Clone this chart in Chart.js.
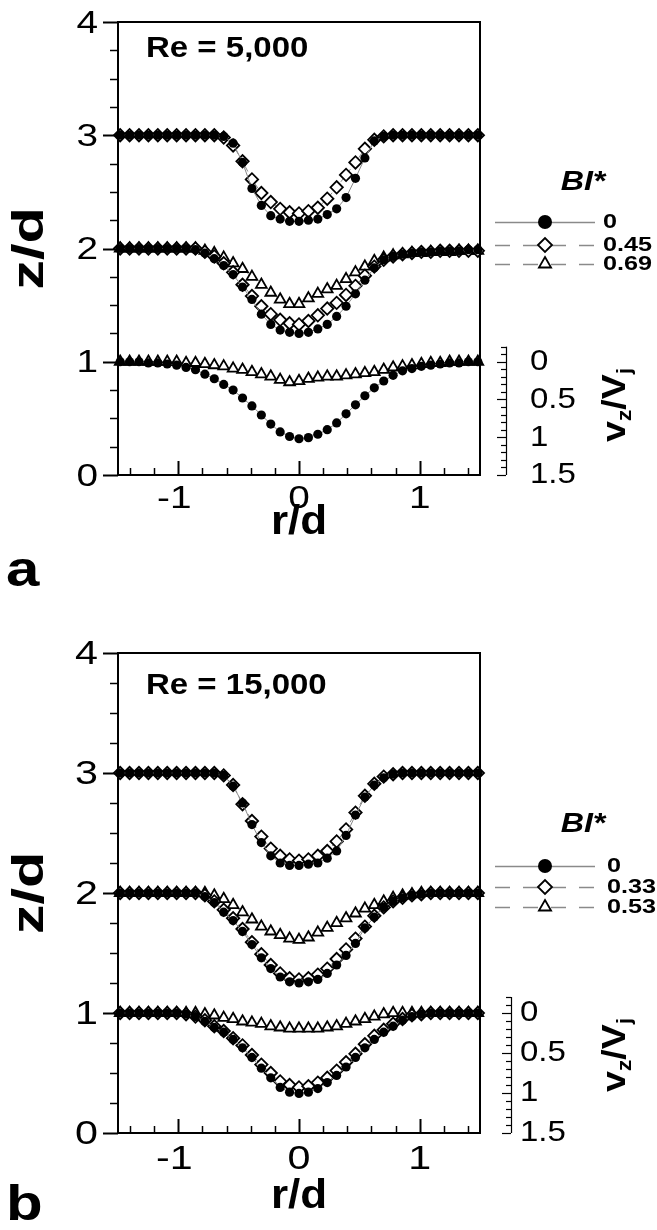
<!DOCTYPE html>
<html>
<head>
<meta charset="utf-8">
<title>Velocity profiles</title>
<script src="https://cdn.jsdelivr.net/npm/chart.js@4.4.1/dist/chart.umd.min.js"></script>
<style>
  html, body { margin: 0; padding: 0; background: #fff; }
  .panel { position: absolute; left: 0; width: 657px; height: 615px; }
  #panelA { top: 0; }
  #panelB { top: 615px; }
</style>
</head>
<body>
<div class="panel" id="panelA"><canvas id="chartA" width="657" height="615"></canvas></div>
<div class="panel" id="panelB"><canvas id="chartB" width="657" height="615"></canvas></div>
<script>
// radial stations r/d shared by every profile
const rGrid = [-1.482, -1.404, -1.326, -1.248, -1.170, -1.092, -1.014, -0.936, -0.858, -0.780,
  -0.702, -0.624, -0.546, -0.468, -0.390, -0.312, -0.234, -0.156, -0.078, 0,
  0.078, 0.156, 0.234, 0.312, 0.390, 0.468, 0.546, 0.624, 0.702, 0.780,
  0.858, 0.936, 1.014, 1.092, 1.170, 1.248, 1.326, 1.404, 1.482];

// Re = 5,000 profiles (plotted z/d position of each marker)
const zA3_0 = [3.00, 3.00, 3.00, 3.00, 3.00, 3.00, 3.00, 3.00, 3.00, 3.00, 3.00, 2.99, 2.93, 2.76, 2.53, 2.38, 2.29, 2.26, 2.24,
  2.24, 2.25, 2.26, 2.30, 2.35, 2.45, 2.62, 2.80, 2.95, 2.99, 3.00, 3.00, 3.00, 3.00, 3.00, 3.00, 3.00, 3.00, 3.00, 3.00];
const zA3_045 = [3.00, 3.00, 3.00, 3.00, 3.00, 3.00, 3.00, 3.00, 3.00, 3.00, 3.00, 2.98, 2.91, 2.77, 2.61, 2.49, 2.41, 2.35, 2.32,
  2.31, 2.33, 2.36, 2.44, 2.54, 2.65, 2.76, 2.88, 2.96, 2.99, 3.00, 3.00, 3.00, 3.00, 3.00, 3.00, 3.00, 3.00, 3.00, 3.00];
const zA2_0 = [2.00, 2.00, 2.00, 2.00, 2.00, 2.00, 2.00, 2.00, 1.99, 1.96, 1.91, 1.85, 1.77, 1.66, 1.55, 1.42, 1.33, 1.28, 1.26,
  1.25, 1.26, 1.29, 1.33, 1.40, 1.49, 1.60, 1.72, 1.83, 1.90, 1.93, 1.95, 1.96, 1.97, 1.97, 1.98, 1.98, 1.98, 1.99, 1.99];
const zA2_045 = [2.00, 2.00, 2.00, 2.00, 2.00, 2.00, 2.00, 2.00, 2.00, 1.97, 1.93, 1.87, 1.79, 1.68, 1.58, 1.49, 1.42, 1.37, 1.34,
  1.33, 1.36, 1.41, 1.47, 1.52, 1.59, 1.67, 1.76, 1.84, 1.90, 1.93, 1.95, 1.96, 1.97, 1.97, 1.98, 1.98, 1.98, 1.98, 1.98];
const zA2_069 = [2.00, 2.00, 2.00, 2.00, 2.00, 2.00, 2.00, 2.00, 2.00, 1.98, 1.96, 1.92, 1.87, 1.82, 1.75, 1.68, 1.61, 1.55, 1.51,
  1.51, 1.56, 1.60, 1.64, 1.67, 1.73, 1.79, 1.84, 1.89, 1.92, 1.94, 1.95, 1.96, 1.96, 1.97, 1.97, 1.97, 1.98, 1.98, 1.98];
const zA1_0 = [1.00, 1.00, 1.00, 0.99, 0.99, 0.98, 0.97, 0.95, 0.93, 0.89, 0.85, 0.80, 0.75, 0.68, 0.61, 0.53, 0.45, 0.38, 0.34,
  0.32, 0.33, 0.36, 0.40, 0.46, 0.54, 0.62, 0.70, 0.77, 0.83, 0.88, 0.92, 0.94, 0.96, 0.97, 0.98, 0.99, 0.99, 1.00, 1.00];
const zA1_069 = [1.00, 1.00, 1.00, 1.00, 1.00, 1.00, 1.00, 0.99, 0.99, 0.98, 0.97, 0.96, 0.94, 0.93, 0.91, 0.89, 0.87, 0.84, 0.82,
  0.83, 0.85, 0.86, 0.87, 0.87, 0.88, 0.89, 0.90, 0.91, 0.93, 0.95, 0.96, 0.97, 0.98, 0.99, 0.99, 1.00, 1.00, 1.00, 1.00];

// Re = 15,000 profiles
const zB3_0 = [3.00, 3.00, 3.00, 3.00, 3.00, 3.00, 3.00, 3.00, 3.00, 3.00, 3.00, 2.98, 2.89, 2.75, 2.57, 2.42, 2.31, 2.25, 2.23,
  2.23, 2.24, 2.25, 2.29, 2.35, 2.48, 2.65, 2.80, 2.90, 2.96, 2.99, 3.00, 3.00, 3.00, 3.00, 3.00, 3.00, 3.00, 3.00, 3.00];
const zB3_033 = [3.00, 3.00, 3.00, 3.00, 3.00, 3.00, 3.00, 3.00, 3.00, 3.00, 3.00, 2.98, 2.90, 2.74, 2.60, 2.47, 2.37, 2.31, 2.28,
  2.27, 2.28, 2.31, 2.35, 2.43, 2.53, 2.67, 2.81, 2.91, 2.97, 2.99, 3.00, 3.00, 3.00, 3.00, 3.00, 3.00, 3.00, 3.00, 3.00];
const zB2_0 = [2.00, 2.00, 2.00, 2.00, 2.00, 2.00, 2.00, 2.00, 2.00, 1.97, 1.92, 1.84, 1.77, 1.68, 1.57, 1.46, 1.37, 1.30, 1.26,
  1.25, 1.26, 1.28, 1.33, 1.40, 1.48, 1.58, 1.71, 1.80, 1.88, 1.93, 1.96, 1.98, 1.99, 2.00, 2.00, 2.00, 2.00, 2.00, 2.00];
const zB2_033 = [2.00, 2.00, 2.00, 2.00, 2.00, 2.00, 2.00, 2.00, 2.00, 1.98, 1.93, 1.86, 1.79, 1.70, 1.59, 1.49, 1.40, 1.33, 1.29,
  1.28, 1.29, 1.32, 1.37, 1.45, 1.53, 1.62, 1.72, 1.81, 1.88, 1.93, 1.96, 1.98, 1.99, 2.00, 2.00, 2.00, 2.00, 2.00, 2.00];
const zB2_053 = [2.00, 2.00, 2.00, 2.00, 2.00, 2.00, 2.00, 2.00, 2.00, 2.00, 1.98, 1.95, 1.90, 1.84, 1.78, 1.72, 1.68, 1.65, 1.62,
  1.61, 1.63, 1.67, 1.71, 1.75, 1.79, 1.83, 1.87, 1.90, 1.93, 1.96, 1.98, 1.99, 2.00, 2.00, 2.00, 2.00, 2.00, 2.00, 2.00];
const zB1_0 = [1.00, 1.00, 1.00, 1.00, 1.00, 1.00, 1.00, 0.99, 0.97, 0.93, 0.88, 0.84, 0.78, 0.71, 0.63, 0.54, 0.46, 0.38, 0.34,
  0.33, 0.34, 0.37, 0.42, 0.48, 0.55, 0.63, 0.71, 0.78, 0.84, 0.89, 0.94, 0.97, 0.99, 1.00, 1.00, 1.00, 1.00, 1.00, 1.00];
const zB1_033 = [1.00, 1.00, 1.00, 1.00, 1.00, 1.00, 1.00, 0.99, 0.97, 0.94, 0.89, 0.85, 0.79, 0.73, 0.65, 0.57, 0.50, 0.43, 0.40,
  0.38, 0.39, 0.42, 0.46, 0.52, 0.59, 0.66, 0.74, 0.81, 0.86, 0.91, 0.95, 0.98, 0.99, 1.00, 1.00, 1.00, 1.00, 1.00, 1.00];
const zB1_053 = [1.00, 1.00, 1.00, 1.00, 1.00, 1.00, 1.00, 1.00, 1.00, 0.99, 0.98, 0.96, 0.95, 0.93, 0.92, 0.91, 0.89, 0.88, 0.87,
  0.87, 0.87, 0.87, 0.88, 0.89, 0.91, 0.93, 0.95, 0.97, 0.99, 1.00, 1.00, 1.00, 1.00, 1.00, 1.00, 1.00, 1.00, 1.00, 1.00];

// tick labels and legend entries
const xTickLabels = [-1, 0, 1];
const yTickLabels = [0, 1, 2, 3, 4];
const vTickLabels = [0, 0.5, 1, 1.5];
const blA = ['0', '0.45', '0.69'];
const blB = ['0', '0.33', '0.53'];

// ---------------------------------------------------------------------------
// marker / line styles per BI* level
// ---------------------------------------------------------------------------
const FONT = "'Liberation Sans', Arial, Helvetica, sans-serif";
const LINE_GREY = '#8a8a8a';
const markerStyles = [
  { pointStyle: 'circle', radius: 4.6, fill: '#000', borderWidth: 0, dash: [] },
  { pointStyle: 'rectRot', radius: 6.2, fill: '#fff', borderWidth: 1.8, dash: [6, 4] },
  { pointStyle: 'triangle', radius: 6.2, fill: '#fff', borderWidth: 1.8, dash: [6, 4] },
];

function buildDataset(s) {
  const st = markerStyles[s.bi];
  return {
    data: rGrid.map((r, i) => ({ x: r, y: s.z[i] })),
    showLine: true,
    borderColor: LINE_GREY,
    borderWidth: 1,
    borderDash: st.dash,
    pointStyle: st.pointStyle,
    pointRadius: st.radius,
    pointBackgroundColor: st.fill,
    pointBorderColor: '#000',
    pointBorderWidth: st.borderWidth,
    tension: 0,
    clip: false,
  };
}

// text helper: the figure's lettering is wider than Arial, so stretch along the text
function wideText(ctx, str, x, y, o) {
  ctx.save();
  ctx.translate(x, y);
  if (o.rotate) ctx.rotate(-Math.PI / 2);
  ctx.scale(o.stretch || 1, 1);
  ctx.font = o.font;
  ctx.textAlign = o.align || 'center';
  ctx.textBaseline = o.baseline || 'middle';
  ctx.fillStyle = '#000';
  ctx.fillText(str, 0, 0);
  ctx.restore();
}

// v_z/V_j written with subscripts, rotated, centred on (x, y)
function drawVelocityLabel(ctx, x, y) {
  const parts = [
    { t: 'v', size: 34, dy: 0 },
    { t: 'z', size: 21, dy: 9 },
    { t: '/V', size: 34, dy: 0 },
    { t: 'j', size: 21, dy: 9 },
  ];
  const stretch = 1.1;
  ctx.save();
  ctx.translate(x, y);
  ctx.rotate(-Math.PI / 2);
  ctx.scale(stretch, 1);
  let total = 0;
  parts.forEach(p => { ctx.font = 'bold ' + p.size + 'px ' + FONT; total += ctx.measureText(p.t).width; });
  let cx = -total / 2;
  ctx.fillStyle = '#000';
  ctx.textBaseline = 'middle';
  ctx.textAlign = 'left';
  parts.forEach(p => {
    ctx.font = 'bold ' + p.size + 'px ' + FONT;
    ctx.fillText(p.t, cx, p.dy);
    cx += ctx.measureText(p.t).width;
  });
  ctx.restore();
}

function drawMarker(ctx, bi, x, y, radius) {
  const st = markerStyles[bi];
  ctx.save();
  ctx.setLineDash([]);
  ctx.fillStyle = st.fill;
  ctx.strokeStyle = '#000';
  ctx.lineWidth = st.borderWidth;
  Chart.helpers.drawPoint(ctx, { pointStyle: st.pointStyle, radius: radius, rotation: 0, borderWidth: st.borderWidth }, x, y);
  ctx.restore();
}

// frame, ticks, labels, legend and velocity ruler for one panel
function panelDecor(cfg) {
  return {
    id: 'panelDecor',
    afterDraw(chart) {
      const { ctx, chartArea: area } = chart;
      const xs = chart.scales.x;
      const ys = chart.scales.y;
      ctx.save();
      ctx.strokeStyle = '#000';
      ctx.lineCap = 'butt';

      // top and right edges of the box
      ctx.lineWidth = 2;
      ctx.beginPath();
      ctx.moveTo(area.left, area.top);
      ctx.lineTo(area.right, area.top);
      ctx.lineTo(area.right, area.bottom);
      ctx.stroke();

      // r/d ticks point into the plot, every 0.2
      ctx.lineWidth = 1.5;
      for (let k = -7; k <= 7; k++) {
        const px = Math.round(xs.getPixelForValue(k * 0.2)) + 0.5;
        const len = k % 5 === 0 ? 14 : 7;
        ctx.lineWidth = k % 5 === 0 ? 2 : 1.5;
        ctx.beginPath();
        ctx.moveTo(px, area.bottom);
        ctx.lineTo(px, area.bottom - len);
        ctx.stroke();
      }
      // z/d ticks point outward, every 0.25
      for (let k = 0; k <= 16; k++) {
        const py = Math.round(ys.getPixelForValue(k * 0.25)) + 0.5;
        const len = k % 4 === 0 ? 15 : 8;
        ctx.lineWidth = k % 4 === 0 ? 2 : 1.5;
        ctx.beginPath();
        ctx.moveTo(area.left, py);
        ctx.lineTo(area.left - len, py);
        ctx.stroke();
      }

      // tick labels
      yTickLabels.forEach(v => {
        wideText(ctx, String(v), area.left - 20, ys.getPixelForValue(v) + 2,
          { font: cfg.tickFont + 'px ' + FONT, align: 'right', stretch: 1.25 });
      });
      xTickLabels.forEach(v => {
        const label = v < 0 ? '-' + Math.abs(v) : String(v);
        wideText(ctx, label, xs.getPixelForValue(v) - (v < 0 ? 4 : 0), area.bottom + cfg.xLabelGap,
          { font: cfg.tickFont + 'px ' + FONT, align: 'center', stretch: 1.25 });
      });

      // axis titles, panel letter and Reynolds number
      wideText(ctx, 'z/d', 31, (area.top + area.bottom) / 2 + cfg.zTitleShift,
        { font: 'bold 44px ' + FONT, rotate: true, stretch: 1.35 });
      wideText(ctx, 'r/d', xs.getPixelForValue(0), area.bottom + cfg.rTitleGap,
        { font: 'bold 40px ' + FONT, stretch: 1.1 });
      wideText(ctx, cfg.letter, 6, cfg.letterY,
        { font: 'bold 50px ' + FONT, align: 'left', baseline: 'alphabetic', stretch: 1.2 });
      wideText(ctx, cfg.reText, 146, area.top + cfg.reGap,
        { font: 'bold 30px ' + FONT, align: 'left', stretch: 1.1 });

      // legend
      wideText(ctx, 'BI*', 583, cfg.legendTitleY,
        { font: 'italic bold 28px ' + FONT, stretch: 1.15 });
      cfg.legendRows.forEach((ly, i) => {
        ctx.save();
        ctx.strokeStyle = LINE_GREY;
        ctx.lineWidth = 1.5;
        ctx.setLineDash(i === 0 ? [] : [15, 13]);
        ctx.beginPath();
        ctx.moveTo(495, ly + 0.5);
        ctx.lineTo(595, ly + 0.5);
        ctx.stroke();
        ctx.restore();
        drawMarker(ctx, i, 545, ly, 7);
        wideText(ctx, cfg.legendLabels[i], cfg.legendTextX, ly,
          { font: 'bold 21px ' + FONT, align: 'left', stretch: 1.2 });
      });

      // velocity ruler: v = 0 sits on z/d = 1 and 1.5 V_j spans one diameter
      const vPix = v => ys.getPixelForValue(1 - v / 1.5);
      const rx = cfg.rulerX;
      ctx.strokeStyle = '#000';
      ctx.lineWidth = 1.2;
      ctx.beginPath();
      ctx.moveTo(rx + 0.5, vPix(-0.2));
      ctx.lineTo(rx + 0.5, vPix(1.5));
      ctx.stroke();
      for (let k = -2; k <= 15; k++) {
        const py = Math.round(vPix(k * 0.1)) + 0.5;
        const len = k % 5 === 0 ? 9 : 5;
        ctx.beginPath();
        ctx.moveTo(rx, py);
        ctx.lineTo(rx - len, py);
        ctx.stroke();
      }
      vTickLabels.forEach(v => {
        wideText(ctx, String(v), cfg.rulerTextX, vPix(v),
          { font: '30px ' + FONT, align: 'left', stretch: 1.1 });
      });
      drawVelocityLabel(ctx, 616, cfg.velLabelY);

      ctx.restore();
    },
  };
}

function makeChart(canvasId, series, cfg) {
  const ctx = document.getElementById(canvasId).getContext('2d');
  return new Chart(ctx, {
    type: 'line',
    data: { datasets: series.map(buildDataset) },
    options: {
      responsive: false,
      animation: false,
      devicePixelRatio: 1,
      layout: { padding: { top: cfg.top, right: 177, left: 0, bottom: 0 } },
      plugins: { legend: { display: false }, tooltip: { enabled: false } },
      scales: {
        x: {
          type: 'linear', min: -1.5, max: 1.5,
          grid: { display: false },
          ticks: { display: false },
          border: { color: '#000', width: 2 },
          afterFit: s => { s.height = cfg.xAxisHeight; },
        },
        y: {
          type: 'linear', min: 0, max: 4,
          grid: { display: false },
          ticks: { display: false },
          border: { color: '#000', width: 2 },
          afterFit: s => { s.width = 118; },
        },
      },
    },
    plugins: [panelDecor(cfg)],
  });
}

// circles first so they sit on top of the open markers
const seriesA = [
  { z: zA3_0, bi: 0 }, { z: zA2_0, bi: 0 }, { z: zA1_0, bi: 0 },
  { z: zA3_045, bi: 1 }, { z: zA2_045, bi: 1 },
  { z: zA2_069, bi: 2 }, { z: zA1_069, bi: 2 },
];
const seriesB = [
  { z: zB3_0, bi: 0 }, { z: zB2_0, bi: 0 }, { z: zB1_0, bi: 0 },
  { z: zB3_033, bi: 1 }, { z: zB2_033, bi: 1 }, { z: zB1_033, bi: 1 },
  { z: zB2_053, bi: 2 }, { z: zB1_053, bi: 2 },
];

makeChart('chartA', seriesA, {
  top: 22, xAxisHeight: 140, tickFont: 31, xLabelGap: 24, rTitleGap: 48, zTitleShift: 0,
  letter: 'a', letterY: 586, reText: 'Re = 5,000', reGap: 27,
  legendTitleY: 182, legendRows: [222, 245, 264], legendLabels: blA, legendTextX: 603,
  rulerX: 506, rulerTextX: 530, velLabelY: 405,
});
makeChart('chartB', seriesB, {
  top: 38, xAxisHeight: 97, tickFont: 33, xLabelGap: 27, rTitleGap: 64, zTitleShift: 0,
  letter: 'b', letterY: 605, reText: 'Re = 15,000', reGap: 33,
  legendTitleY: 209, legendRows: [251, 272, 292], legendLabels: blB, legendTextX: 607,
  rulerX: 511, rulerTextX: 520, velLabelY: 440,
});
</script>
</body>
</html>
